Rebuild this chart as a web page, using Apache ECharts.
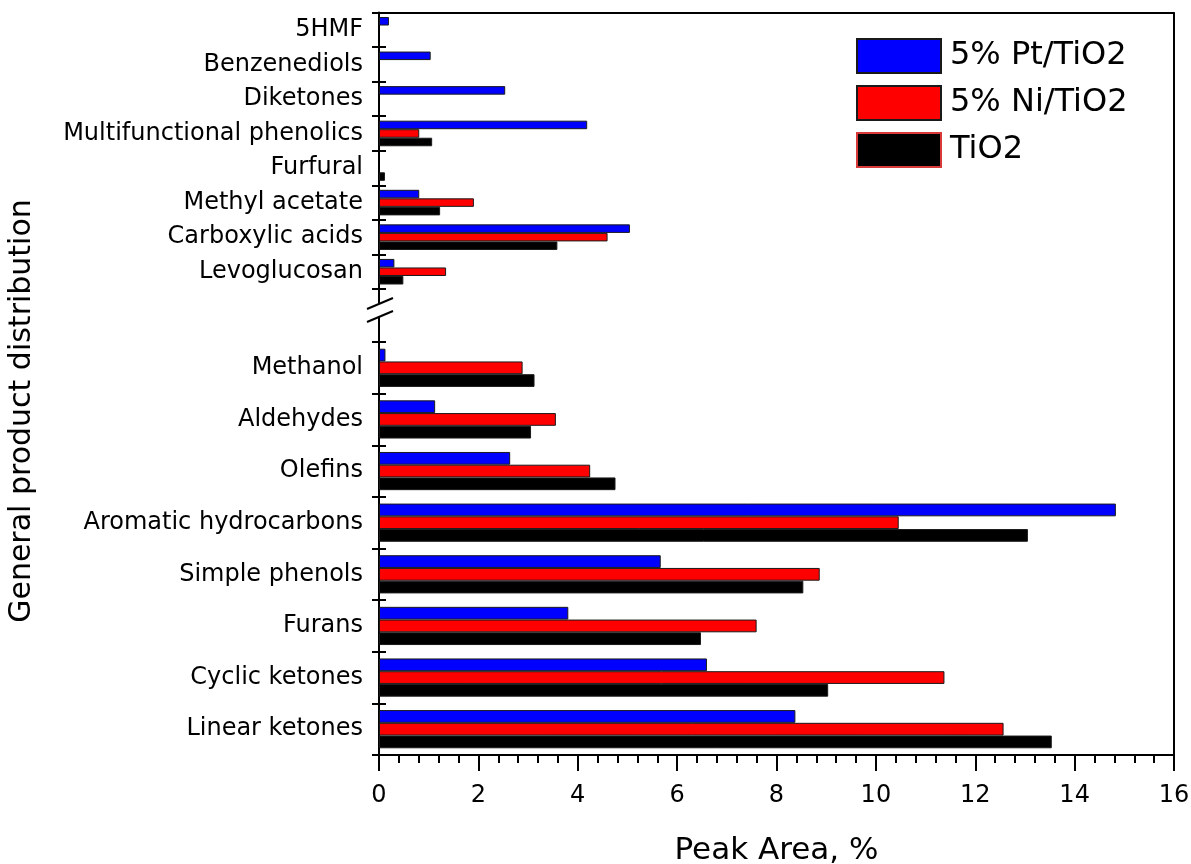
<!DOCTYPE html>
<html>
<head>
<meta charset="utf-8">
<script src="https://cdn.jsdelivr.net/npm/echarts@6/dist/echarts.min.js"></script>
<style>
  html, body { margin: 0; padding: 0; background: #fff; }
  #chart { width: 1191px; height: 864px; }
</style>
</head>
<body>
<div id="chart"></div>
<script>
// Product groups above the axis break (listed top to bottom)
const topCategories = ['5HMF', 'Benzenediols', 'Diketones', 'Multifunctional phenolics',
  'Furfural', 'Methyl acetate', 'Carboxylic acids', 'Levoglucosan'];
const ptTop  = [0.20, 1.04, 2.54, 4.19, null, 0.81, 5.05, 0.31];
const niTop  = [null, null, null, 0.81, null, 1.91, 4.60, 1.35];
const tioTop = [null, null, null, 1.07, 0.12, 1.23, 3.59, 0.49];

// Product groups below the axis break (listed top to bottom)
const bottomCategories = ['Methanol', 'Aldehydes', 'Olefins', 'Aromatic hydrocarbons',
  'Simple phenols', 'Furans', 'Cyclic ketones', 'Linear ketones'];
const ptBottom  = [0.13, 1.13, 2.64, 14.83, 5.67, 3.81, 6.60, 8.38];
const niBottom  = [2.89, 3.56, 4.25, 10.46, 8.87, 7.60, 11.38, 12.57];
const tioBottom = [3.13, 3.06, 4.76, 13.06, 8.54, 6.48, 9.04, 13.54];

const seriesNames = ['5% Pt/TiO2', '5% Ni/TiO2', 'TiO2'];
const seriesColors = ['#0000ff', '#ff0000', '#000000'];
const xTicks = { min: 0, max: 16, interval: 2 };

// Layout (px)
const W = 1191, H = 864;
const L = 379, R = 1174;
const topY = 12.5, topBottom = 289;
const botY = 342, botBottom = 755;
const FONT = 'DejaVu Sans';

const chart = echarts.init(document.getElementById('chart'), null, { renderer: 'canvas' });

function valueAxis(gridIndex, isBottom) {
  return {
    type: 'value', gridIndex, min: xTicks.min, max: xTicks.max, interval: xTicks.interval,
    position: isBottom ? 'bottom' : 'top',
    axisLine: { show: true, onZero: false, lineStyle: { color: '#000', width: 2 } },
    axisTick: { show: isBottom, length: 16, inside: false, lineStyle: { color: '#000', width: 2 } },
    minorTick: { show: isBottom, splitNumber: 5, length: 8, lineStyle: { color: '#000', width: 2 } },
    axisLabel: { show: isBottom, color: '#000', fontSize: 24, fontFamily: FONT, margin: 29 },
    splitLine: { show: false },
    name: isBottom ? 'Peak Area, %' : '',
    nameLocation: 'middle', nameGap: 80,
    nameTextStyle: { color: '#000', fontSize: 31, fontFamily: FONT }
  };
}

// Each panel has two left category axes: one with outward ticks and labels,
// one with inward ticks only, so the ticks cross the axis line.
function categoryAxis(gridIndex, cats, withLabels) {
  return {
    type: 'category', gridIndex, data: cats, inverse: true, position: 'left',
    axisLine: { show: withLabels, lineStyle: { color: '#000', width: 2 } },
    axisTick: { show: true, inside: !withLabels, length: 7, lineStyle: { color: '#000', width: 2 } },
    axisLabel: { show: withLabels, color: '#000', fontSize: 24, fontFamily: FONT, margin: 16 },
    splitLine: { show: false }
  };
}

function barSeries(i, data, gridIdx) {
  return {
    name: seriesNames[i], type: 'bar',
    xAxisIndex: gridIdx, yAxisIndex: gridIdx * 2,
    data, barGap: '0%', barCategoryGap: '26%',
    itemStyle: { color: seriesColors[i], borderColor: '#1a1a1a', borderWidth: 1 }
  };
}

const blk = { stroke: '#000', lineWidth: 2 };

chart.setOption({
  animation: false,
  backgroundColor: '#fff',
  grid: [
    { left: L, right: W - R, top: topY, height: topBottom - topY, containLabel: false, outerBoundsMode: 'none' },
    { left: L, right: W - R, top: botY, height: botBottom - botY, containLabel: false, outerBoundsMode: 'none' }
  ],
  legend: {
    orient: 'vertical', left: 856, top: 38, padding: 0,
    itemWidth: 84, itemHeight: 34, itemGap: 11,
    icon: 'rect',
    textStyle: { color: '#000', fontSize: 32, fontFamily: FONT, padding: [0, 0, 0, 4] },
    data: [
      { name: seriesNames[0] },
      { name: seriesNames[1] },
      { name: seriesNames[2], itemStyle: { borderColor: '#d83a3a', borderWidth: 2 } }
    ]
  },
  xAxis: [valueAxis(0, false), valueAxis(1, true)],
  yAxis: [
    categoryAxis(0, topCategories, true),
    categoryAxis(0, topCategories, false),
    categoryAxis(1, bottomCategories, true),
    categoryAxis(1, bottomCategories, false)
  ],
  series: [
    barSeries(0, ptTop, 0), barSeries(1, niTop, 0), barSeries(2, tioTop, 0),
    barSeries(0, ptBottom, 1), barSeries(1, niBottom, 1), barSeries(2, tioBottom, 1)
  ],
  graphic: [
    // right frame edge spanning both panels
    { type: 'line', shape: { x1: R, y1: topY, x2: R, y2: botBottom }, style: blk, silent: true },
    // left axis through the break, with the two break slashes
    { type: 'line', shape: { x1: L, y1: topBottom, x2: L, y2: 303 }, style: blk, silent: true },
    { type: 'line', shape: { x1: L, y1: 316, x2: L, y2: botY }, style: blk, silent: true },
    { type: 'line', shape: { x1: L - 12, y1: 309, x2: L + 14, y2: 298 }, style: blk, silent: true },
    { type: 'line', shape: { x1: L - 12, y1: 322, x2: L + 14, y2: 311 }, style: blk, silent: true },
    // y-axis title
    {
      type: 'text', x: 22, y: 411, rotation: Math.PI / 2, silent: true,
      style: { text: 'General product distribution', fontSize: 30, fontFamily: FONT,
               fill: '#000', align: 'center', verticalAlign: 'middle' }
    }
  ]
});
</script>
</body>
</html>
